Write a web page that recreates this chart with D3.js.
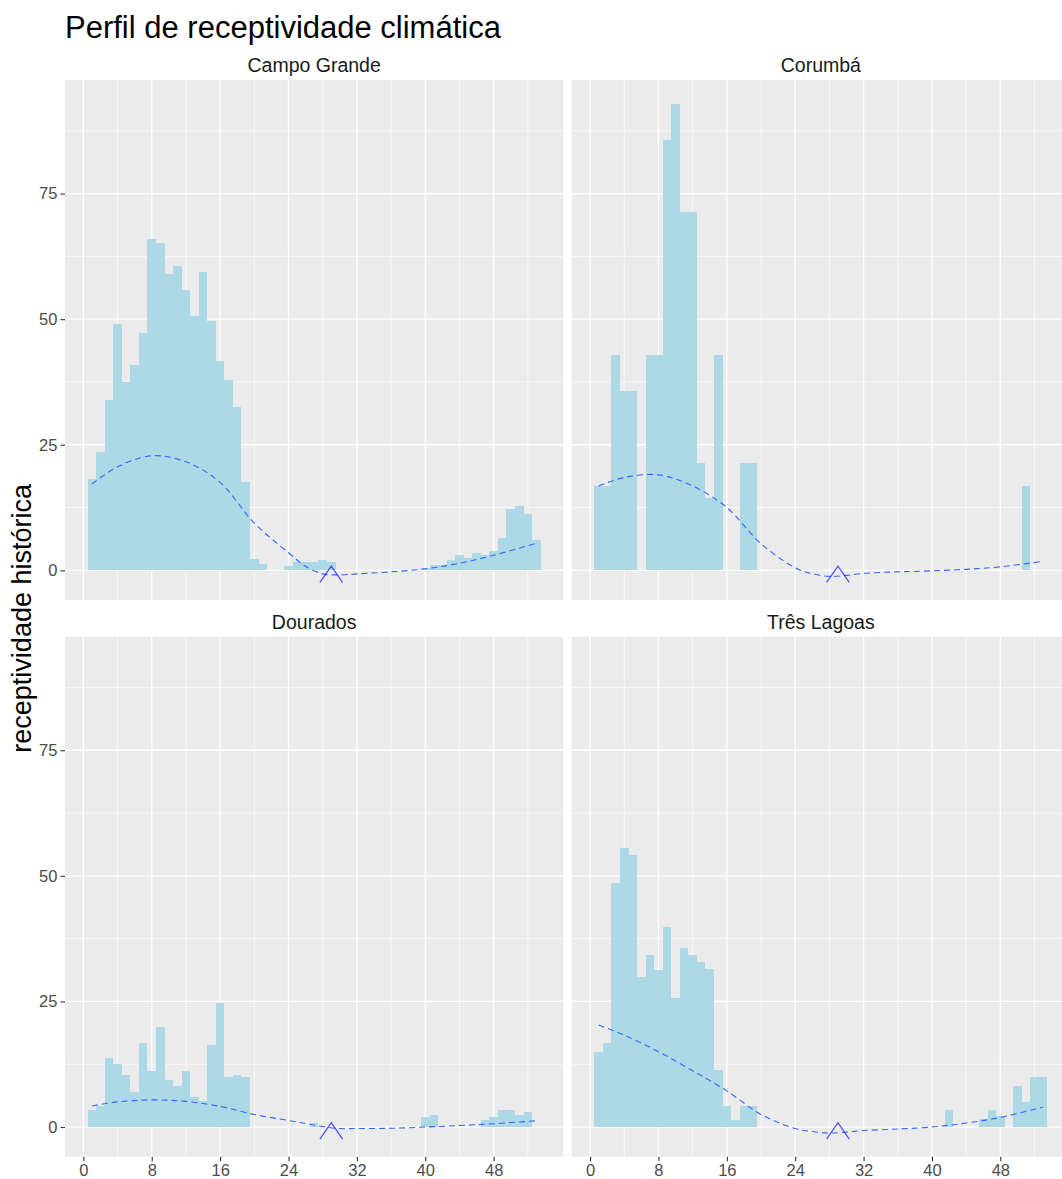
<!DOCTYPE html>
<html lang="pt">
<head>
  <meta charset="UTF-8">
  <title>Perfil de receptividade climática</title>
  <style>
    body {
      margin: 0;
      background: #fff;
      font-family: "Liberation Sans", Arial, sans-serif;
    }
    svg { display: block; }
    .tick line { stroke: #333333; stroke-width: 1.1px; }
    .tick text { fill: #4D4D4D; font-size: 16.5px; font-family: "Liberation Sans", Arial, sans-serif; }
  </style>
</head>
<body>
  <svg width="1062" height="1179"></svg>
  <script src="https://d3js.org/d3.v7.min.js"></script>
  <script>

// weeks 1..53, one bar per week
const cities = ["Campo Grande", "Corumbá", "Dourados", "Três Lagoas"];

const campoGrande = [
  18.1, 23.5, 34.0, 49.1, 37.4, 40.8, 47.2, 66.0, 65.2, 58.9,
  60.5, 55.9, 50.7, 59.3, 49.7, 41.6, 37.8, 32.5, 17.5, 2.3,
  1.3, 0.1, 0.1, 0.8, 1.7, 1.7, 1.7, 2.1, 1.7, 0.1,
  0.1, 0.1, 0.1, 0.1, 0.1, 0.1, 0.1, 0.1, 0.1, 0.5,
  1.1, 1.1, 2.1, 3.1, 2.5, 3.5, 3.1, 3.9, 6.5, 12.3,
  12.8, 11.3, 6.1
];
const corumba = [
  16.7, 16.7, 42.9, 35.7, 35.7, 0, 42.9, 42.9, 85.7, 92.9,
  71.4, 71.4, 21.4, 14.3, 42.9, 0.1, 0.1, 21.4, 21.4, 0.1,
  0.1, 0.1, 0.1, 0.1, 0.1, 0.1, 0.1, 0.1, 0.1, 0.1,
  0.1, 0.1, 0.1, 0.1, 0.1, 0.1, 0.1, 0.1, 0.1, 0.1,
  0.1, 0.1, 0.1, 0.1, 0.1, 0.1, 0.1, 0.1, 0.1, 0.1,
  16.7, 0.1, 0.1
];
const dourados = [
  3.4, 4.2, 13.7, 12.5, 10.3, 7.0, 16.7, 11.1, 19.9, 9.3,
  8.1, 11.1, 6.0, 5.2, 16.3, 24.6, 9.9, 10.3, 9.9, 0.1,
  0.1, 0.1, 0.1, 0.1, 0.1, 0.1, 0.8, 0.1, 0.1, 0.1,
  0.1, 0.1, 0.1, 0.1, 0.1, 0.1, 0.1, 0.1, 0.1, 2.0,
  2.4, 0.1, 0.1, 0.1, 0.1, 0.1, 1.4, 2.0, 3.4, 3.4,
  2.4, 3.0, 0.1
];
const tresLagoas = [
  14.9, 16.7, 48.5, 55.6, 54.2, 29.8, 34.2, 31.2, 39.9, 25.6,
  35.6, 34.2, 32.8, 31.4, 11.3, 4.2, 1.4, 4.2, 4.2, 0.1,
  0.1, 0.1, 0.1, 0.1, 0.1, 0.1, 0.1, 0.1, 0.1, 0.1,
  0.1, 0.1, 0.1, 0.1, 0.1, 0.1, 0.1, 0.1, 0.1, 0.1,
  0.1, 3.3, 0.1, 0.1, 0.1, 1.5, 3.3, 2.2, 0.1, 8.2,
  5.0, 10.0, 10.0
];

// smoothed trend (dashed), read at these weeks
const curveWeeks = [1, 4, 8, 12, 16, 20, 24, 26, 28, 30, 32, 36, 40, 44, 48, 53];
const campoGrandeCurve = [17.2, 20.6, 22.8, 21.6, 17.5, 9.4, 3.5, 0.8, -0.7, -0.9, -0.7, -0.3, 0.3, 1.4, 3.0, 5.4];
const corumbaCurve     = [16.8, 18.5, 19.0, 16.8, 12.5, 5.3, 0.5, -0.7, -1.2, -1.0, -0.6, -0.3, -0.1, 0.2, 0.7, 1.8];
const douradosCurve    = [4.2, 5.0, 5.4, 5.1, 4.1, 2.5, 1.3, 0.7, 0.1, -0.3, -0.3, -0.25, 0.0, 0.3, 0.65, 1.25];
const tresLagoasCurve  = [20.3, 18.3, 15.0, 11.2, 7.2, 2.5, -0.3, -0.9, -1.2, -1.0, -0.7, -0.4, 0.0, 0.8, 1.9, 4.0];

const markWeek = 29;
const xTicks = [0, 8, 16, 24, 32, 40, 48];
const xMinor = [4, 12, 20, 28, 36, 44, 52];
const yTicks = [0, 25, 50, 75];
const yMinor = [12.5, 37.5, 62.5, 87.5];

const bars = [campoGrande, corumba, dourados, tresLagoas];
const curves = [campoGrandeCurve, corumbaCurve, douradosCurve, tresLagoasCurve];
const weeks = d3.range(1, 54);

// layout
const panelW = 498.3, panelH = 520;
const colX = [65, 571.7];
const rowY = [80, 636.7];

const svg = d3.select("svg");

// shared scales, ggplot-like 5% expansion
const xLo = 0.5, xHi = 53.5;
const xPad = (xHi - xLo) * 0.05;
const x = d3.scaleLinear().domain([xLo - xPad, xHi + xPad]).range([0, panelW]);

const yLo = Math.min(0, d3.min(curves.flat()));
const yHi = d3.max(bars.flat());
const yPad = (yHi - yLo) * 0.05;
const y = d3.scaleLinear().domain([yLo - yPad, yHi + yPad]).range([panelH, 0]);

const line = d3.line()
  .x(d => x(d[0]))
  .y(d => y(d[1]))
  .curve(d3.curveCatmullRom.alpha(0.5));

svg.append("text")
  .attr("x", 65)
  .attr("y", 37.5)
  .attr("font-size", 31)
  .attr("fill", "#000")
  .text("Perfil de receptividade climática");

svg.append("text")
  .attr("transform", `translate(30.5,${(rowY[0] + rowY[1] + panelH) / 2}) rotate(-90)`)
  .attr("text-anchor", "middle")
  .attr("font-size", 27)
  .attr("fill", "#000")
  .text("receptividade histórica");

cities.forEach((city, i) => {
  const col = i % 2, row = Math.floor(i / 2);
  const g = svg.append("g").attr("transform", `translate(${colX[col]},${rowY[row]})`);

  g.append("clipPath").attr("id", "clip" + i)
    .append("rect").attr("width", panelW).attr("height", panelH);

  // strip label
  g.append("text")
    .attr("x", panelW / 2)
    .attr("y", -7.7)
    .attr("text-anchor", "middle")
    .attr("font-size", 19.5)
    .attr("fill", "#1A1A1A")
    .text(city);

  g.append("rect")
    .attr("width", panelW)
    .attr("height", panelH)
    .attr("fill", "#EBEBEB");

  // grid
  g.selectAll(".vminor").data(xMinor).join("line")
    .attr("x1", d => x(d)).attr("x2", d => x(d))
    .attr("y1", 0).attr("y2", panelH)
    .attr("stroke", "#fff").attr("stroke-width", 0.65);
  g.selectAll(".hminor").data(yMinor).join("line")
    .attr("y1", d => y(d)).attr("y2", d => y(d))
    .attr("x1", 0).attr("x2", panelW)
    .attr("stroke", "#fff").attr("stroke-width", 0.65);
  g.selectAll(".vmajor").data(xTicks).join("line")
    .attr("x1", d => x(d)).attr("x2", d => x(d))
    .attr("y1", 0).attr("y2", panelH)
    .attr("stroke", "#fff").attr("stroke-width", 1.3);
  g.selectAll(".hmajor").data(yTicks).join("line")
    .attr("y1", d => y(d)).attr("y2", d => y(d))
    .attr("x1", 0).attr("x2", panelW)
    .attr("stroke", "#fff").attr("stroke-width", 1.3);

  const inner = g.append("g").attr("clip-path", `url(#clip${i})`);

  inner.selectAll("rect.bar").data(weeks).join("rect")
    .attr("class", "bar")
    .attr("x", w => x(w - 0.5))
    .attr("width", w => x(w + 0.5) - x(w - 0.5))
    .attr("y", w => y(bars[i][w - 1]))
    .attr("height", w => y(0) - y(bars[i][w - 1]))
    .attr("fill", "#ADD8E6")
    .attr("shape-rendering", "crispEdges");

  inner.append("path")
    .datum(curveWeeks.map((w, k) => [w, curves[i][k]]))
    .attr("d", line)
    .attr("fill", "none")
    .attr("stroke", "#3366FF")
    .attr("stroke-width", 1.1)
    .attr("stroke-dasharray", "6,4");

  // "^" marker
  inner.append("path")
    .attr("transform", `translate(${x(markWeek)},${y(0)})`)
    .attr("d", "M-11.3,12 L0,-4.3 L11.3,12")
    .attr("fill", "none")
    .attr("stroke", "blue")
    .attr("stroke-opacity", 0.65)
    .attr("stroke-width", 1.3);

  if (col === 0) {
    const ax = g.append("g")
      .call(d3.axisLeft(y).tickValues(yTicks).tickSize(4.5).tickPadding(3.2));
    ax.select(".domain").remove();
  }
  if (row === 1) {
    const ax = g.append("g")
      .attr("transform", `translate(0,${panelH})`)
      .call(d3.axisBottom(x).tickValues(xTicks).tickSize(4.5).tickPadding(3));
    ax.select(".domain").remove();
  }
});
  </script>
</body>
</html>
